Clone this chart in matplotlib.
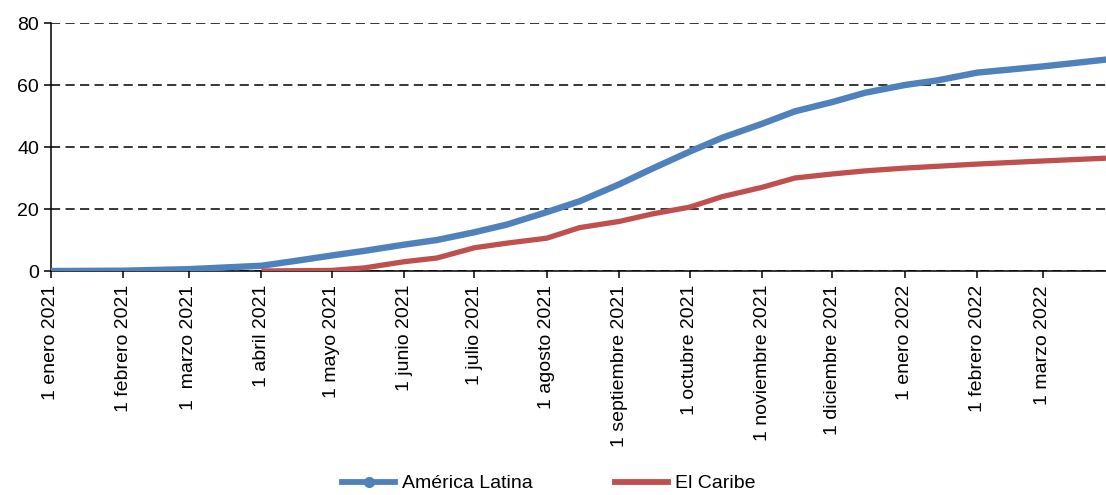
import numpy as np
import pandas as pd
import matplotlib.pyplot as plt
import matplotlib.dates as mdates
from matplotlib.lines import Line2D

plt.rcParams['font.family'] = ['Liberation Sans', 'DejaVu Sans']

# Cumulative vaccination coverage (%), read at roughly semi-monthly points
latam_dates = pd.to_datetime([
    '2021-01-01', '2021-02-01', '2021-03-01', '2021-04-01', '2021-04-15',
    '2021-05-01', '2021-05-15', '2021-06-01', '2021-06-15', '2021-07-01',
    '2021-07-15', '2021-08-01', '2021-08-15', '2021-09-01', '2021-09-15',
    '2021-10-01', '2021-10-15', '2021-11-01', '2021-11-15', '2021-12-01',
    '2021-12-15', '2022-01-01', '2022-01-15', '2022-02-01', '2022-02-15',
    '2022-03-01', '2022-03-28'])
latam_vals = [0.0, 0.1, 0.6, 1.7, 3.2,
              5.0, 6.5, 8.5, 10.0, 12.5,
              15.0, 19.0, 22.5, 28.0, 33.0,
              38.5, 43.0, 47.5, 51.5, 54.5,
              57.5, 60.0, 61.5, 64.0, 65.0,
              66.0, 68.2]

caribe_dates = pd.to_datetime([
    '2021-04-01', '2021-05-01', '2021-05-15', '2021-06-01', '2021-06-15',
    '2021-07-01', '2021-07-15', '2021-08-01', '2021-08-15', '2021-09-01',
    '2021-09-15', '2021-10-01', '2021-10-15', '2021-11-01', '2021-11-15',
    '2021-12-01', '2021-12-15', '2022-01-01', '2022-02-01', '2022-03-01',
    '2022-03-28'])
caribe_vals = [0.0, 0.2, 1.0, 3.0, 4.2,
               7.5, 9.0, 10.6, 14.0, 16.0,
               18.4, 20.6, 24.0, 27.0, 30.0,
               31.3, 32.3, 33.2, 34.5, 35.5,
               36.4]

tick_dates = pd.to_datetime([
    '2021-01-01', '2021-02-01', '2021-03-01', '2021-04-01', '2021-05-01',
    '2021-06-01', '2021-07-01', '2021-08-01', '2021-09-01', '2021-10-01',
    '2021-11-01', '2021-12-01', '2022-01-01', '2022-02-01', '2022-03-01'])
tick_labels = ['1 enero 2021', '1 febrero 2021', '1  marzo 2021', '1 abril 2021',
               '1 mayo 2021', '1 junio 2021', '1 julio 2021', '1 agosto 2021',
               '1 septiembre 2021', '1 octubre 2021', '1 noviembre 2021',
               '1 diciembre 2021', '1 enero 2022', '1 febrero 2022', '1 marzo 2022']

blue = '#4f81bd'
red = '#c0504d'

fig = plt.figure(figsize=(11.06, 4.95), dpi=100)
ax = fig.add_axes([0.046, 0.4525, 0.954, 0.501])

ax.plot(latam_dates, latam_vals, color=blue, lw=4.6, solid_capstyle='round', zorder=3)
ax.plot(caribe_dates, caribe_vals, color=red, lw=3.8, solid_capstyle='butt', zorder=3)

ax.set_ylim(0, 80)
ax.set_yticks([0, 20, 40, 60, 80])
ax.set_xlim(pd.Timestamp('2021-01-01'), pd.Timestamp('2022-03-28'))
ax.set_xticks(tick_dates)
ax.set_xticklabels(tick_labels, rotation=90, va='top', ha='center')

ax.yaxis.grid(True, color='black', linestyle=(0, (6, 3.5)), linewidth=1.1)
ax.set_axisbelow(True)
for s in ['top', 'right']:
    ax.spines[s].set_visible(False)
ax.spines['left'].set_linewidth(1.1)
ax.spines['bottom'].set_linewidth(1.1)
ax.tick_params(axis='both', direction='out', length=5, width=1.1,
               labelsize=14, colors='black')
ax.tick_params(axis='x', pad=5)

handles = [Line2D([], [], color=blue, lw=4.2, marker='o', markersize=7),
           Line2D([], [], color=red, lw=4.2)]
fig.legend(handles, ['América Latina', 'El Caribe'], loc='lower center',
           bbox_to_anchor=(0.496, -0.03), ncol=2, frameon=False, fontsize=14,
           handlelength=2.75, handletextpad=0.35, columnspacing=4.2)

fig.savefig('out.png', dpi=100)
